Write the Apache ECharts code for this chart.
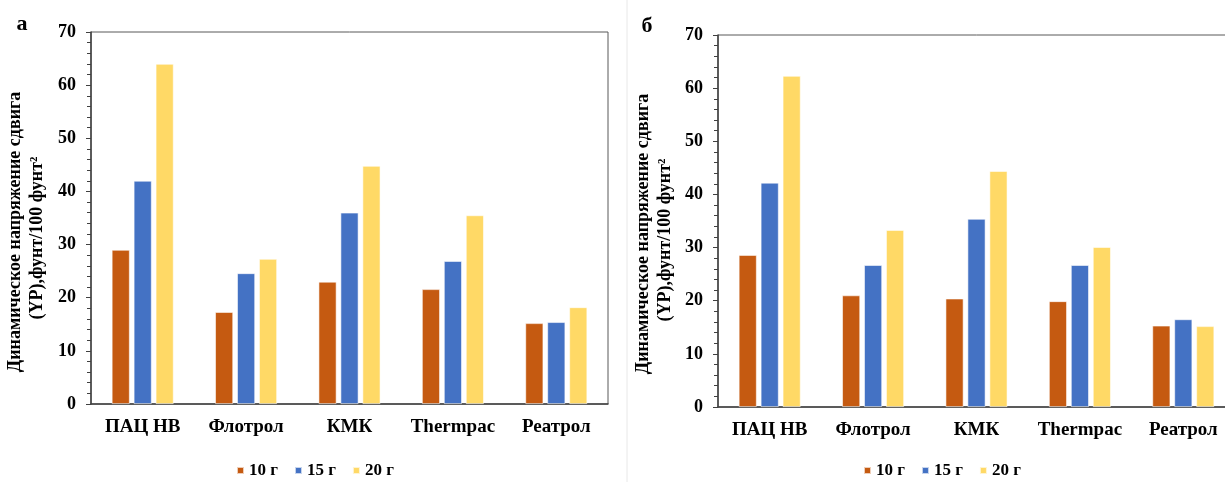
<!DOCTYPE html>
<html>
<head>
    <meta charset="utf-8">
    <title>YP</title>
    <script src="https://cdn.jsdelivr.net/npm/echarts@6/dist/echarts.min.js"></script>
    <style>
      html, body { margin: 0; padding: 0; background: #fff; overflow: hidden; }
    </style>
</head>
<body>
    <div id="main" style="width:1240px;height:482px;"></div>
    <script type="text/javascript">
      // данные
      var categories = ['ПАЦ НВ', 'Флотрол', 'КМК', 'Thermpac', 'Реатрол'];
      var seriesNames = ['10 г', '15 г', '20 г'];
      // панель а
      var a10 = [29.0, 17.3, 23.0, 21.6, 15.2];
      var a15 = [42.0, 24.6, 36.0, 26.9, 15.4];
      var a20 = [64.0, 27.3, 44.8, 35.5, 18.2];
      // панель б
      var b10 = [28.6, 21.0, 20.4, 19.9, 15.3];
      var b15 = [42.2, 26.7, 35.4, 26.7, 16.5];
      var b20 = [62.3, 33.3, 44.4, 30.1, 15.2];
      var yTitle1 = 'Динамическое напряжение сдвига';
      var yTitle2 = '(YP),фунт/100 фунт²';

      var colors = ['#C55A11', '#4472C4', '#FFD966'];
      var serif = '"Liberation Serif", "DejaVu Serif", serif';

      function xAxis(i) {
        return {
          type: 'category', gridIndex: i, data: categories,
          axisLine: { lineStyle: { color: '#404040', width: 1.5 } },
          axisTick: { show: false },
          axisLabel: { interval: 0, color: '#000', fontFamily: serif, fontWeight: 'bold', fontSize: 19, margin: 14 }
        };
      }
      function yAxis(i) {
        return {
          type: 'value', gridIndex: i, min: 0, max: 70, interval: 10,
          axisLine: { show: true, lineStyle: { color: '#404040', width: 1.5 } },
          axisTick: { show: true, length: 5, lineStyle: { color: '#404040' } },
          minorTick: { show: true, splitNumber: 5, length: 4, lineStyle: { color: '#404040' } },
          splitLine: { show: false },
          axisLabel: { color: '#000', fontFamily: serif, fontWeight: 'bold', fontSize: 18, margin: 15 }
        };
      }
      function bars(i, lists) {
        return lists.map(function (d, k) {
          return {
            name: seriesNames[k], type: 'bar', xAxisIndex: i, yAxisIndex: i, data: d,
            barWidth: 18, barGap: '22%',
            itemStyle: { color: colors[k], borderColor: 'rgba(255,255,255,0.7)', borderWidth: 0.8 }
          };
        });
      }
      function legend(left) {
        return {
          data: seriesNames, left: left, top: 462, icon: 'rect',
          itemWidth: 7, itemHeight: 7, itemGap: 16, padding: 0,
          textStyle: { color: '#000', fontFamily: serif, fontWeight: 'bold', fontSize: 17 }
        };
      }
      function label(txt, x, y, size, rot) {
        return {
          type: 'text', x: x, y: y, rotation: rot || 0,
          style: { text: txt, fill: '#000', font: 'bold ' + size + 'px ' + serif,
                   textAlign: 'center', textVerticalAlign: 'middle' }
        };
      }

      var echart = echarts.init(document.getElementById('main'));
      var option = {
        animation: false,
        color: colors,
        grid: [
          { left: 91, top: 32, width: 517, height: 372, show: true, borderColor: '#595959', borderWidth: 1 },
          { left: 718, top: 35, width: 517, height: 372, show: true, borderColor: '#595959', borderWidth: 1 }
        ],
        xAxis: [xAxis(0), xAxis(1)],
        yAxis: [yAxis(0), yAxis(1)],
        series: bars(0, [a10, a15, a20]).concat(bars(1, [b10, b15, b20])),
        legend: [legend(236), legend(863)],
        graphic: [
          { type: 'line', shape: { x1: 627, y1: 0, x2: 627, y2: 482 }, style: { stroke: '#e8e8e8', lineWidth: 1 } },
          label('а', 22, 24, 22),
          label('б', 647, 26, 22),
          label(yTitle1, 15, 232, 18, Math.PI / 2),
          label(yTitle2, 37, 238, 18, Math.PI / 2),
          label(yTitle1, 643, 234, 18, Math.PI / 2),
          label(yTitle2, 665, 240, 18, Math.PI / 2)
        ]
      };
      echart.setOption(option);
    </script>
</body>
</html>
